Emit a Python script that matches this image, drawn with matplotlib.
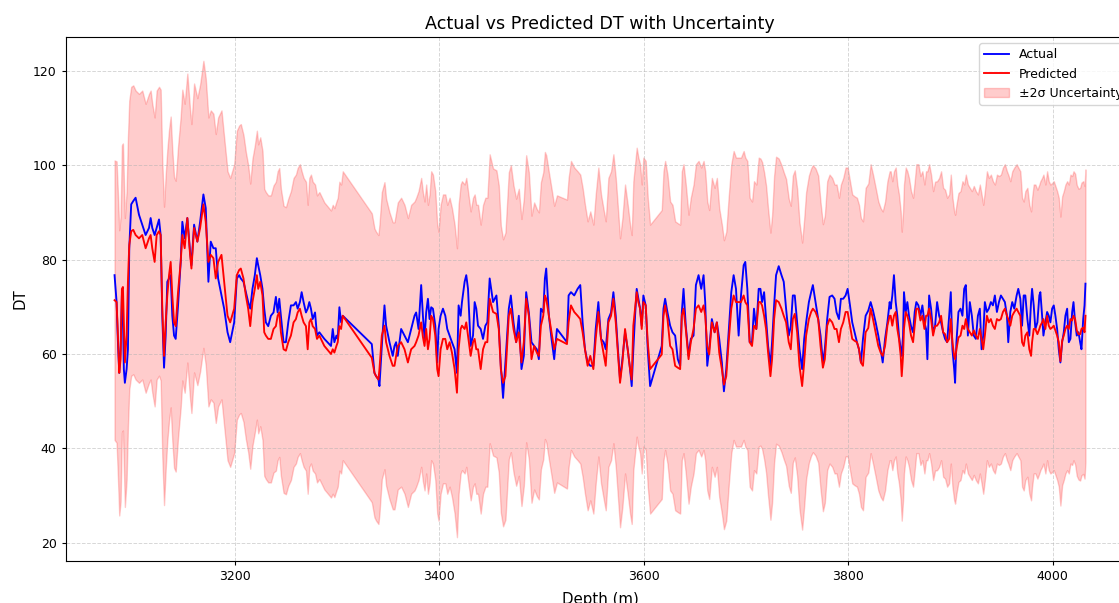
import numpy as np
from matplotlib import pyplot as plt

# Well log: measured DT vs model prediction with a +/-2 sigma band
depth_m = [
    3082.4, 3084.4, 3085.7, 3087.0, 3088.3, 3089.6, 3090.6, 3091.5, 3092.5, 3094.2,
    3095.5, 3096.8, 3098.7, 3100.7, 3103.0, 3106.3, 3109.5, 3112.8, 3116.1, 3117.7,
    3119.3, 3121.6, 3123.6, 3125.9, 3127.5, 3129.1, 3130.8, 3132.4, 3134.0, 3135.7,
    3137.3, 3138.9, 3140.6, 3142.2, 3144.5, 3147.1, 3148.7, 3151.0, 3153.6, 3156.3,
    3157.6, 3160.2, 3163.4, 3166.1, 3169.3, 3171.6, 3174.2, 3176.5, 3179.1, 3181.4,
    3183.7, 3187.0, 3189.6, 3192.9, 3195.5, 3199.4,
    3202.0, 3204.3, 3205.9, 3208.5, 3210.8, 3213.1, 3215.1, 3217.3, 3219.6, 3221.6,
    3222.9, 3224.9, 3227.1, 3228.8, 3230.4, 3232.7, 3235.3, 3237.9, 3240.2, 3241.9,
    3243.5, 3245.1, 3247.7, 3250.0, 3252.3, 3254.9, 3257.5, 3259.8, 3261.5, 3263.7,
    3265.4, 3267.3, 3269.6, 3271.3, 3272.9, 3274.5, 3276.2, 3278.5, 3280.4, 3282.7,
    3287.6, 3294.1, 3295.8, 3297.4, 3299.4, 3300.7, 3302.3, 3304.0, 3305.6,
    3334.0, 3336.6, 3338.2, 3340.5, 3341.5, 3343.8, 3346.4, 3348.0, 3351.3, 3354.5,
    3356.2, 3357.8, 3359.4, 3362.7, 3366.0, 3369.3, 3372.5, 3375.8, 3377.4, 3379.7,
    3382.3, 3384.0, 3385.6, 3387.2, 3388.9, 3390.5, 3392.1, 3393.8, 3396.1, 3398.0,
    3399.3, 3401.3, 3403.6, 3405.9, 3407.8, 3410.1, 3412.4, 3415.0, 3417.3, 3418.9,
    3420.9, 3422.2, 3424.8, 3426.4, 3428.1, 3430.7, 3433.0, 3434.6, 3436.2, 3437.9,
    3440.5, 3442.8, 3445.1, 3447.0, 3449.3,
    3452.6, 3455.9, 3458.2, 3460.2, 3462.4, 3464.7, 3468.0, 3470.0, 3472.6, 3475.2,
    3477.8, 3480.4, 3482.7, 3485.0, 3487.6, 3490.2, 3492.8, 3495.4, 3497.4, 3499.4,
    3501.7, 3503.3, 3504.6, 3507.2, 3509.8, 3512.4, 3515.1, 3524.9, 3526.5, 3528.8,
    3532.0, 3535.3, 3537.9, 3540.2, 3542.5, 3545.1, 3547.7, 3550.7, 3553.0, 3555.6,
    3558.2, 3560.8, 3562.8, 3565.4, 3568.0, 3570.3, 3572.6, 3574.5, 3576.8, 3579.1,
    3581.7, 3584.3, 3586.6,
    3588.2, 3589.8, 3591.5, 3593.1, 3594.7, 3596.4, 3598.0, 3599.6, 3601.9, 3603.9,
    3606.2, 3617.6, 3619.3, 3620.9, 3623.2, 3625.8, 3628.1, 3630.7, 3633.3, 3635.6,
    3637.2, 3638.9, 3641.1, 3643.8, 3646.0, 3648.7, 3651.0, 3653.6, 3656.2, 3658.5,
    3660.1, 3662.1, 3664.0, 3666.6, 3669.3, 3671.5, 3673.8, 3676.4, 3678.4, 3680.7,
    3683.0, 3685.6, 3687.9, 3690.2, 3692.8, 3695.1, 3697.7, 3699.3, 3701.3, 3703.6,
    3705.9, 3707.8, 3710.1, 3712.4,
    3714.1, 3715.7, 3717.7, 3719.6, 3721.6, 3723.9, 3725.5, 3727.5, 3729.4, 3732.0,
    3734.7, 3736.9, 3739.2, 3741.8, 3743.8, 3745.8, 3747.7, 3750.0, 3752.3, 3754.9,
    3756.9, 3758.8, 3761.5, 3763.7, 3765.4, 3768.0, 3770.6, 3772.9, 3775.2, 3777.1,
    3779.4, 3781.7, 3784.3, 3786.6, 3788.6, 3790.9, 3792.8, 3795.1, 3797.4, 3799.4,
    3801.7, 3803.9, 3806.2, 3808.5, 3810.5, 3812.4, 3814.4, 3817.0, 3819.6, 3821.9,
    3824.2, 3826.8, 3829.4, 3831.7, 3833.7, 3836.0, 3838.3, 3840.5,
    3841.5, 3843.1, 3844.7, 3846.4, 3848.0, 3849.6, 3851.3, 3852.3, 3853.6, 3854.5,
    3856.2, 3857.8, 3859.4, 3861.4, 3863.4, 3865.0, 3866.6, 3868.6, 3870.6, 3872.5,
    3874.5, 3876.1, 3877.4, 3879.1, 3881.0, 3883.0, 3884.9, 3886.9, 3888.9, 3890.8,
    3892.8, 3894.7, 3896.7, 3898.7, 3900.3, 3901.9, 3903.6, 3904.5, 3905.8, 3907.8,
    3909.8, 3911.7, 3913.4, 3915.0, 3917.0, 3918.9, 3920.9, 3922.8, 3924.8, 3926.8,
    3928.7, 3930.4, 3932.0, 3933.6, 3935.6, 3937.5, 3939.5, 3941.5, 3943.4, 3945.4,
    3947.4, 3949.3, 3951.3, 3953.2, 3955.2, 3956.5, 3958.5, 3960.4, 3962.4, 3964.7,
    3966.3, 3968.3,
    3970.0, 3971.6, 3973.2, 3975.2, 3977.1, 3978.8, 3979.8, 3981.4, 3983.0, 3985.0,
    3986.9, 3987.9, 3989.6, 3990.9, 3992.8, 3994.5, 3996.1, 3997.7, 3999.4, 4001.0,
    4002.6, 4004.3, 4005.9, 4007.5, 4009.2, 4010.8, 4012.4, 4014.1, 4015.7, 4017.3,
    4019.0, 4020.3, 4021.9, 4023.5, 4025.2, 4026.8, 4028.1, 4029.8, 4031.1, 4032.0,
]

dt_actual = [
    76.7, 71.0, 62.5, 56.0, 61.0, 72.4, 68.1, 56.8, 53.9, 56.8,
    61.0, 82.4, 91.7, 92.4, 93.1, 89.5, 87.4, 85.2, 86.7, 88.8,
    86.7, 85.2, 86.7, 88.5, 85.2, 68.1, 57.1, 63.9, 75.3, 76.0,
    76.7, 68.1, 63.9, 63.2, 70.3, 79.5, 88.0, 84.5, 88.8, 81.6,
    78.8, 87.4, 83.8, 88.0, 93.8, 90.9, 75.3, 83.8, 82.4, 82.4,
    76.0, 72.4, 69.6, 64.6, 62.5, 66.7,
    76.0, 76.7, 76.0, 75.3, 73.1, 71.0, 69.6, 73.8, 76.7, 80.3,
    78.8, 76.7, 73.8, 69.6, 66.7, 65.9, 68.1, 68.8, 72.1, 68.8,
    71.7, 68.1, 62.5, 62.5, 66.7, 70.3, 70.3, 71.0, 69.6, 71.0,
    73.1, 71.0, 68.8, 69.6, 71.0, 69.6, 67.4, 68.8, 63.9, 64.6,
    63.2, 61.7, 65.3, 62.5, 63.9, 63.2, 69.9, 66.7, 68.1,
    62.1, 56.0, 55.3, 54.6, 53.2, 61.7, 70.3, 66.0, 62.5, 59.6,
    61.7, 62.5, 59.6, 65.3, 63.9, 62.5, 65.3, 68.1, 68.8, 65.3,
    74.6, 68.1, 63.2, 68.8, 71.7, 67.4, 69.9, 69.6, 66.0, 58.2,
    65.3, 68.1, 69.6, 68.1, 65.3, 63.9, 62.5, 61.0, 56.0, 70.3,
    68.1, 71.0, 75.3, 76.7, 73.8, 61.7, 63.9, 71.0, 69.6, 66.0,
    65.3, 63.2, 66.0, 66.7, 76.0,
    71.0, 72.4, 66.0, 57.5, 50.7, 58.2, 69.6, 72.4, 66.7, 62.5,
    68.1, 56.8, 59.6, 73.1, 68.8, 62.5, 61.7, 61.0, 58.9, 69.6,
    68.8, 76.0, 78.1, 68.1, 63.2, 58.9, 65.3, 62.5, 72.4, 73.1,
    72.4, 73.8, 74.6, 66.7, 61.0, 58.2, 57.5, 57.5, 65.3, 71.0,
    63.2, 62.5, 61.0, 67.4, 68.8, 73.1, 68.1, 61.7, 54.6, 58.9,
    64.6, 61.0, 56.8,
    53.2, 61.0, 68.1, 73.8, 71.7, 69.6, 66.0, 72.4, 70.3, 61.0,
    53.2, 61.7, 69.6, 71.7, 68.8, 66.0, 64.6, 63.9, 58.9, 57.5,
    68.8, 73.8, 66.0, 59.6, 63.2, 63.9, 74.6, 76.7, 73.8, 76.7,
    71.0, 57.5, 61.0, 67.4, 64.6, 66.7, 63.2, 58.2, 52.1, 56.8,
    64.6, 73.1, 76.7, 73.8, 63.9, 72.4, 78.8, 79.5, 73.8, 62.5,
    62.5, 69.6, 65.3, 73.8,
    73.8, 71.0, 73.1, 67.4, 61.7, 57.5, 62.5, 70.3, 76.7, 78.6,
    76.7, 75.3, 69.6, 63.9, 65.9, 72.4, 72.4, 66.7, 61.0, 56.8,
    63.2, 66.7, 71.0, 73.1, 74.6, 71.0, 67.4, 63.9, 58.2, 61.0,
    67.4, 72.1, 72.4, 71.7, 68.8, 67.4, 71.7, 71.7, 72.4, 73.8,
    70.3, 66.7, 64.6, 62.5, 61.0, 58.2, 63.2, 68.1, 69.2, 71.0,
    69.2, 66.7, 63.9, 61.0, 58.2, 63.2, 66.7, 71.0,
    69.6, 72.4, 76.7, 71.0, 68.1, 63.9, 61.0, 59.6, 63.9, 73.1,
    68.9, 71.0, 68.1, 65.9, 64.6, 68.9, 71.0, 70.3, 68.1, 70.3,
    66.7, 65.3, 58.9, 72.4, 69.6, 64.6, 65.9, 71.0, 68.1, 66.7,
    64.6, 63.2, 62.5, 68.1, 73.1, 61.0, 56.8, 53.9, 62.5, 68.9,
    69.6, 68.1, 73.8, 74.6, 63.9, 71.0, 68.1, 63.9, 63.2, 68.1,
    69.6, 61.0, 63.9, 71.0, 68.9, 69.6, 71.0, 70.3, 72.4, 68.9,
    71.0, 72.4, 71.7, 71.0, 68.1, 62.5, 68.9, 71.0, 69.6, 72.4,
    73.8, 71.7,
    66.0, 72.4, 72.4, 67.4, 63.9, 71.0, 73.8, 70.3, 65.3, 66.7,
    72.4, 73.1, 68.1, 63.9, 66.7, 68.9, 68.1, 66.7, 69.6, 70.3,
    68.1, 65.3, 61.0, 58.2, 62.5, 64.6, 68.1, 69.6, 62.5, 63.2,
    68.9, 71.0, 66.7, 63.9, 64.6, 62.5, 61.0, 67.4, 70.3, 74.9,
]

dt_pred = [
    71.4, 71.0, 63.9, 56.0, 58.9, 73.8, 74.2, 66.7, 58.2, 63.9,
    75.3, 83.1, 86.0, 86.3, 85.2, 84.5, 85.2, 82.4, 84.5, 85.2,
    82.4, 79.5, 85.2, 86.0, 85.2, 69.6, 59.6, 66.7, 72.4, 76.7,
    79.5, 72.4, 66.7, 65.9, 73.1, 79.5, 85.2, 82.4, 88.8, 81.0,
    78.1, 86.7, 83.8, 86.7, 91.7, 88.0, 79.5, 81.0, 80.3, 76.0,
    79.5, 81.0, 75.3, 68.1, 66.7, 69.6,
    76.7, 77.8, 78.1, 76.0, 72.4, 69.6, 65.9, 71.0, 73.8, 76.7,
    73.8, 75.3, 72.4, 64.6, 63.9, 63.2, 63.2, 65.3, 65.9, 68.1,
    68.8, 64.6, 61.0, 60.7, 62.5, 63.9, 66.7, 67.4, 68.8, 69.6,
    68.1, 66.7, 65.9, 61.0, 66.7, 67.4, 65.9, 65.3, 63.2, 63.9,
    61.7, 60.0, 61.0, 60.3, 61.7, 62.5, 65.9, 65.3, 68.1,
    59.2, 56.0, 55.3, 54.6, 56.8, 63.9, 66.0, 62.5, 59.6, 57.5,
    57.5, 59.6, 61.7, 62.5, 61.0, 58.2, 61.0, 61.7, 62.5, 63.9,
    66.7, 63.6, 61.7, 65.3, 61.0, 63.2, 68.1, 67.4, 63.9, 56.8,
    55.3, 61.0, 63.2, 63.2, 61.0, 62.5, 60.3, 56.8, 51.8, 61.0,
    65.3, 66.0, 65.3, 66.7, 63.9, 59.6, 62.5, 63.2, 61.0, 61.0,
    56.8, 61.0, 62.5, 62.5, 71.7,
    68.9, 68.5, 65.3, 56.8, 53.9, 55.3, 68.1, 69.6, 65.3, 62.5,
    64.6, 58.2, 62.5, 71.7, 68.1, 58.9, 61.7, 60.3, 59.6, 66.0,
    68.1, 72.4, 71.7, 68.1, 64.6, 61.0, 63.2, 62.1, 66.7, 70.3,
    68.9, 68.1, 67.4, 64.6, 61.0, 57.5, 59.6, 56.8, 63.2, 68.9,
    63.2, 59.9, 57.5, 66.7, 68.1, 71.7, 66.7, 61.0, 53.9, 58.2,
    65.3, 61.0, 56.8,
    54.6, 66.0, 69.6, 73.1, 71.0, 69.6, 65.3, 71.0, 70.3, 62.5,
    56.8, 59.9, 68.1, 70.3, 67.4, 61.7, 61.0, 57.5, 57.1, 56.8,
    68.1, 69.6, 65.3, 58.9, 62.5, 65.3, 69.6, 70.3, 68.9, 70.3,
    68.1, 61.7, 59.9, 66.7, 64.6, 66.7, 60.3, 56.8, 53.5, 55.3,
    62.5, 69.6, 72.4, 71.0, 71.0, 71.0, 72.4, 71.0, 70.3, 62.5,
    61.7, 66.0, 65.3, 71.0,
    71.0, 70.3, 68.1, 65.3, 60.3, 55.3, 58.9, 67.4, 71.4, 71.0,
    69.6, 68.1, 66.7, 62.5, 61.0, 67.4, 68.5, 64.6, 57.5, 53.2,
    58.2, 63.9, 67.4, 68.9, 69.6, 68.9, 67.4, 61.7, 57.1, 58.9,
    66.0, 67.4, 66.7, 65.3, 65.3, 62.5, 65.3, 66.7, 68.9, 68.9,
    66.0, 63.2, 62.8, 62.5, 61.0, 58.2, 57.5, 64.6, 65.5, 69.6,
    67.4, 64.6, 61.7, 60.3, 59.6, 61.7, 66.0, 68.1,
    68.1, 66.0, 68.1, 68.9, 65.3, 63.2, 59.6, 55.3, 59.6, 65.3,
    68.9, 68.1, 66.7, 63.9, 62.5, 66.0, 69.6, 69.6, 67.1, 68.1,
    65.3, 68.1, 68.1, 69.6, 67.4, 63.9, 65.9, 66.0, 66.7, 68.1,
    64.6, 64.2, 62.5, 63.2, 67.4, 62.5, 59.6, 58.9, 61.0, 63.5,
    63.9, 66.0, 65.3, 67.4, 65.3, 64.6, 63.9, 65.0, 63.9, 63.2,
    65.3, 63.2, 61.0, 63.9, 68.1, 66.7, 67.4, 66.0, 65.3, 67.4,
    67.1, 67.4, 68.9, 69.6, 68.1, 67.4, 66.0, 68.1, 68.9, 69.6,
    68.9, 68.1,
    62.5, 61.7, 63.9, 64.6, 61.0, 59.6, 62.5, 65.3, 65.3, 64.2,
    65.3, 66.0, 66.7, 67.4, 65.3, 68.1, 66.0, 65.3, 65.6, 66.0,
    65.0, 63.9, 62.5, 58.5, 62.8, 63.9, 65.3, 66.0, 65.3, 67.4,
    67.1, 68.1, 67.4, 65.0, 64.2, 64.2, 65.3, 65.6, 64.6, 68.1,
]

dt_sigma = [
    14.8, 14.9, 15.0, 15.1, 15.1, 15.2, 15.2, 15.2, 15.3, 15.3,
    15.3, 15.3, 15.3, 15.3, 15.3, 15.3, 15.3, 15.3, 15.3, 15.3,
    15.3, 15.3, 15.3, 15.3, 15.4, 15.6, 15.8, 15.6, 15.4, 15.4,
    15.4, 15.4, 15.4, 15.4, 15.4, 15.4, 15.4, 15.3, 15.3, 15.3,
    15.3, 15.3, 15.2, 15.2, 15.2, 15.2, 15.3, 15.3, 15.3, 15.3,
    15.3, 15.3, 15.3, 15.3, 15.3, 15.3,
    15.3, 15.3, 15.3, 15.2, 15.2, 15.2, 15.1, 15.2, 15.2, 15.3,
    15.3, 15.3, 15.3, 15.2, 15.2, 15.2, 15.2, 15.2, 15.3, 15.3,
    15.3, 15.2, 15.2, 15.2, 15.2, 15.3, 15.3, 15.3, 15.3, 15.3,
    15.3, 15.3, 15.3, 15.3, 15.3, 15.3, 15.3, 15.3, 15.2, 15.2,
    15.2, 15.2, 15.3, 15.3, 15.3, 15.3, 15.3, 15.3, 15.3,
    15.3, 15.3, 15.3, 15.3, 15.3, 15.2, 15.2, 15.2, 15.2, 15.2,
    15.2, 15.2, 15.2, 15.3, 15.3, 15.3, 15.3, 15.3, 15.3, 15.3,
    15.3, 15.3, 15.3, 15.3, 15.3, 15.3, 15.3, 15.3, 15.3, 15.3,
    15.3, 15.3, 15.3, 15.3, 15.3, 15.3, 15.3, 15.3, 15.3, 15.3,
    15.3, 15.3, 15.3, 15.3, 15.3, 15.3, 15.3, 15.3, 15.3, 15.3,
    15.3, 15.3, 15.3, 15.3, 15.3,
    15.2, 15.2, 15.2, 15.2, 15.2, 15.2, 15.2, 15.2, 15.2, 15.2,
    15.2, 15.2, 15.2, 15.2, 15.2, 15.2, 15.2, 15.2, 15.2, 15.2,
    15.2, 15.2, 15.2, 15.2, 15.2, 15.2, 15.2, 15.3, 15.3, 15.3,
    15.3, 15.3, 15.3, 15.3, 15.3, 15.3, 15.3, 15.3, 15.3, 15.3,
    15.3, 15.3, 15.3, 15.3, 15.3, 15.3, 15.3, 15.3, 15.3, 15.3,
    15.3, 15.3, 15.3,
    15.3, 15.3, 15.3, 15.3, 15.3, 15.3, 15.3, 15.3, 15.3, 15.3,
    15.3, 15.3, 15.3, 15.3, 15.3, 15.3, 15.3, 15.3, 15.3, 15.3,
    15.3, 15.3, 15.3, 15.3, 15.3, 15.3, 15.3, 15.3, 15.3, 15.3,
    15.3, 15.3, 15.3, 15.3, 15.3, 15.3, 15.3, 15.3, 15.3, 15.3,
    15.3, 15.3, 15.3, 15.3, 15.3, 15.3, 15.3, 15.3, 15.3, 15.3,
    15.3, 15.3, 15.3, 15.3,
    15.2, 15.2, 15.2, 15.2, 15.2, 15.2, 15.2, 15.2, 15.2, 15.2,
    15.2, 15.2, 15.2, 15.2, 15.2, 15.2, 15.2, 15.2, 15.2, 15.2,
    15.2, 15.2, 15.2, 15.2, 15.2, 15.2, 15.2, 15.2, 15.2, 15.2,
    15.3, 15.3, 15.3, 15.3, 15.3, 15.3, 15.3, 15.3, 15.3, 15.3,
    15.3, 15.3, 15.3, 15.3, 15.3, 15.3, 15.3, 15.3, 15.3, 15.3,
    15.3, 15.3, 15.3, 15.3, 15.3, 15.3, 15.3, 15.3,
    15.3, 15.3, 15.3, 15.3, 15.3, 15.3, 15.3, 15.3, 15.3, 15.3,
    15.3, 15.3, 15.3, 15.3, 15.3, 15.3, 15.3, 15.3, 15.3, 15.3,
    15.3, 15.3, 15.3, 15.3, 15.3, 15.3, 15.3, 15.3, 15.3, 15.3,
    15.3, 15.3, 15.3, 15.3, 15.3, 15.3, 15.3, 15.3, 15.3, 15.3,
    15.3, 15.3, 15.3, 15.3, 15.3, 15.3, 15.3, 15.3, 15.3, 15.3,
    15.3, 15.3, 15.3, 15.3, 15.3, 15.3, 15.3, 15.3, 15.3, 15.3,
    15.3, 15.3, 15.3, 15.3, 15.3, 15.3, 15.3, 15.3, 15.3, 15.3,
    15.3, 15.3,
    15.3, 15.3, 15.3, 15.3, 15.3, 15.3, 15.3, 15.3, 15.3, 15.3,
    15.3, 15.3, 15.3, 15.3, 15.3, 15.3, 15.3, 15.3, 15.3, 15.3,
    15.3, 15.3, 15.3, 15.3, 15.3, 15.3, 15.3, 15.3, 15.3, 15.3,
    15.3, 15.3, 15.4, 15.4, 15.4, 15.5, 15.5, 15.5, 15.5, 15.5,
]

depth = np.array(depth_m)
pred = np.array(dt_pred)
sigma = np.array(dt_sigma)

plt.rcParams.update({
    "font.size": 9,
    "lines.linewidth": 1.35,
    "xtick.major.size": 3.2,
    "ytick.major.size": 3.2,
    "axes.linewidth": 0.8,
})

fig = plt.figure(figsize=(11.19, 6.03), dpi=100)
# axes run past the right edge of the canvas
ax = fig.add_axes([66 / 1119, 42 / 603, 1068 / 1119, 524 / 603])

ax.plot(depth, dt_actual, color="blue", label="Actual")
ax.plot(depth, pred, color="red", label="Predicted")
ax.fill_between(depth, pred - 2 * sigma, pred + 2 * sigma,
                color="red", alpha=0.2, label="±2σ Uncertainty")

ax.set_title("Actual vs Predicted DT with Uncertainty", fontsize=12.6, pad=5.5)
ax.set_xlabel("Depth (m)", fontsize=10.8, labelpad=6)
ax.set_ylabel("DT", fontsize=10.8)
ax.legend(loc="upper right")
ax.grid(True, linestyle="--", linewidth=0.7, alpha=0.5)

fig.savefig("out.png", dpi=100)
